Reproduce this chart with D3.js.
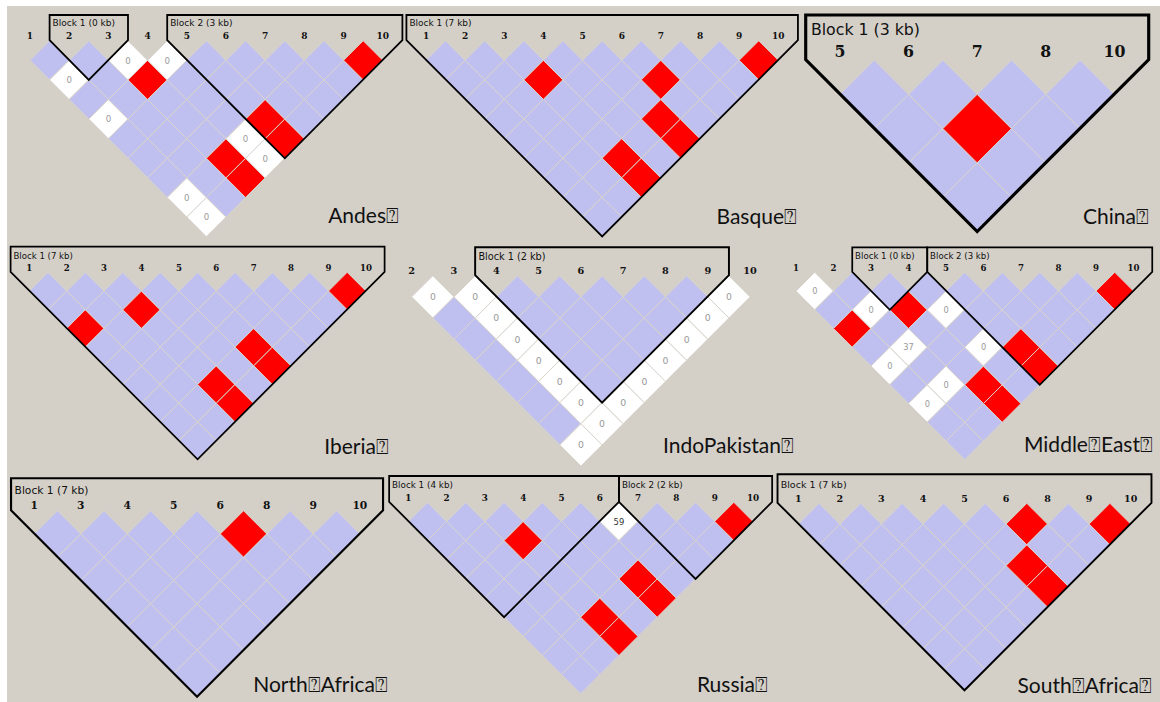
<!DOCTYPE html>
<html>
<head>
<meta charset="utf-8">
<script src="https://cdn.jsdelivr.net/npm/d3@7"></script>
<style>
  html, body { margin: 0; padding: 0; background: #fff; }
  svg { display: block; }
</style>
</head>
<body>
<svg id="chart" width="1160" height="702"></svg>
<script>
// marker labels, red (D'=1, LOD>=2) pairs, white pairs [m1, m2, D'], haplotype blocks
const andesMarkers = ['1', '2', '3', '4', '5', '6', '7', '8', '9', '10'];
const andesRed = [[3, 5], [9, 10], [5, 9], [5, 10], [3, 9], [3, 10]];
const andesWhite = [[3, 4, 0], [4, 5, 0], [1, 3, 0], [1, 5, 0], [4, 9, 0], [4, 10, 0], [1, 9, 0], [1, 10, 0]];
const andesBlocks = [['Block 1 (0 kb)', 2, 3], ['Block 2 (3 kb)', 5, 10]];

const basqueMarkers = ['1', '2', '3', '4', '5', '6', '7', '8', '9', '10'];
const basqueRed = [[3, 5], [6, 8], [9, 10], [5, 9], [5, 10], [3, 9], [3, 10]];
const basqueWhite = [];
const basqueBlocks = [['Block 1 (7 kb)', 1, 10]];

const chinaMarkers = ['5', '6', '7', '8', '10'];
const chinaRed = [[6, 8]];
const chinaWhite = [];
const chinaBlocks = [['Block 1 (3 kb)', 5, 10]];

const iberiaMarkers = ['1', '2', '3', '4', '5', '6', '7', '8', '9', '10'];
const iberiaRed = [[9, 10], [3, 5], [1, 4], [5, 9], [5, 10], [3, 9], [3, 10]];
const iberiaWhite = [];
const iberiaBlocks = [['Block 1 (7 kb)', 1, 10]];

const indoMarkers = ['2', '3', '4', '5', '6', '7', '8', '9', '10'];
const indoRed = [];
const indoWhite = [[2, 3, 0], [3, 4, 0], [3, 5, 0], [3, 6, 0], [3, 7, 0], [3, 8, 0], [3, 9, 0], [3, 10, 0],
    [9, 10, 0], [8, 10, 0], [7, 10, 0], [6, 10, 0], [5, 10, 0], [4, 10, 0], [2, 10, 0]];
const indoBlocks = [['Block 1 (2 kb)', 4, 9]];

const meMarkers = ['1', '2', '3', '4', '5', '6', '7', '8', '9', '10'];
const meRed = [[9, 10], [3, 5], [1, 4], [5, 9], [5, 10], [3, 9], [3, 10]];
const meWhite = [[1, 2, 0], [2, 4, 0], [4, 6, 0], [2, 6, 37], [4, 8, 0], [1, 6, 0], [2, 8, 0], [1, 8, 0]];
const meBlocks = [['Block 1 (0 kb)', 3, 4], ['Block 2 (3 kb)', 5, 10]];

const nafMarkers = ['1', '3', '4', '5', '6', '8', '9', '10'];
const nafRed = [[6, 8]];
const nafWhite = [];
const nafBlocks = [['Block 1 (7 kb)', 1, 10]];

const russiaMarkers = ['1', '2', '3', '4', '5', '6', '7', '8', '9', '10'];
const russiaRed = [[3, 5], [9, 10], [5, 9], [5, 10], [3, 9], [3, 10]];
const russiaWhite = [[6, 7, 59]];
const russiaBlocks = [['Block 1 (4 kb)', 1, 6], ['Block 2 (2 kb)', 7, 10]];

const safMarkers = ['1', '2', '3', '4', '5', '6', '8', '9', '10'];
const safRed = [[6, 8], [9, 10], [5, 9], [5, 10]];
const safWhite = [];
const safBlocks = [['Block 1 (7 kb)', 1, 10]];

const populations = ['Andes\u2370', 'Basque\u2370', 'China\u2370', 'Iberia\u2370', 'IndoPakistan\u2370',
    'Middle\u2370East\u2370', 'North\u2370Africa\u2370', 'Russia\u2370', 'South\u2370Africa\u2370'];

// where each panel sits: first marker x, marker spacing, top of diamonds, block top, name anchor
const layout = [
    { x0: 30, s: 39.2, topV: 40.7, top: 15, lx: 399, ly: 223 },
    { x0: 426, s: 39.15, topV: 40.7, top: 15, lx: 797, ly: 224 },
    { x0: 840, s: 68.6, topV: 60, top: 15, lx: 1149, ly: 224 },
    { x0: 29.3, s: 37.4, topV: 272.3, top: 246.7, lx: 389, ly: 454 },
    { x0: 411.7, s: 42.3, topV: 275.7, top: 247.3, lx: 794, ly: 453 },
    { x0: 796, s: 37.5, topV: 272.3, top: 247.3, lx: 1153, ly: 452 },
    { x0: 34.3, s: 46.5, topV: 510.7, top: 478.3, lx: 388, ly: 692 },
    { x0: 408.3, s: 38.3, topV: 502.3, top: 476, lx: 768, ly: 692 },
    { x0: 798.3, s: 41.55, topV: 503.3, top: 474.3, lx: 1152, ly: 693 },
];

const panels = [
    [andesMarkers, andesRed, andesWhite, andesBlocks],
    [basqueMarkers, basqueRed, basqueWhite, basqueBlocks],
    [chinaMarkers, chinaRed, chinaWhite, chinaBlocks],
    [iberiaMarkers, iberiaRed, iberiaWhite, iberiaBlocks],
    [indoMarkers, indoRed, indoWhite, indoBlocks],
    [meMarkers, meRed, meWhite, meBlocks],
    [nafMarkers, nafRed, nafWhite, nafBlocks],
    [russiaMarkers, russiaRed, russiaWhite, russiaBlocks],
    [safMarkers, safRed, safWhite, safBlocks],
];

const BG = '#d4d0c8';
const BLUE = '#c0c0f0';
const RED = '#ff0000';

const svg = d3.select('#chart');

svg.append('rect')
    .attr('x', 7)
    .attr('y', 6)
    .attr('width', 1153)
    .attr('height', 696)
    .attr('fill', BG);

panels.forEach((p, pi) => {
    const [markers, reds, whites, blocks] = p;
    const L = layout[pi];
    const k = L.s / 39.2;
    const n = markers.length;

    const x = d3.scalePoint()
        .domain(markers)
        .range([L.x0, L.x0 + (n - 1) * L.s]);
    // row (distance between markers) -> diamond centre y
    const y = d3.scaleLinear()
        .domain([0, 1])
        .range([L.topV, L.topV + L.s / 2]);

    const key = (a, b) => a + '-' + b;
    const redSet = new Set(reds.map((d) => key(d[0], d[1])));
    const whiteMap = new Map(whites.map((d) => [key(d[0], d[1]), d[2]]));

    const cells = [];
    for (let i = 0; i < n; i ++) {
        for (let j = i + 1; j < n; j ++) {
            const id = key(markers[i], markers[j]);
            let type = 'blue';
            if (redSet.has(id)) type = 'red';
            if (whiteMap.has(id)) type = 'white';
            cells.push({
                cx: (x(markers[i]) + x(markers[j])) / 2,
                cy: y(j - i),
                type: type,
                value: whiteMap.get(id),
            });
        }
    }

    const g = svg.append('g').attr('class', 'panel');
    const h = L.s / 2;

    g.selectAll('.cell')
        .data(cells)
        .enter()
        .append('path')
        .attr('class', 'cell')
        .attr('d', (d) => 'M' + d.cx + ',' + (d.cy - h) + 'L' + (d.cx + h) + ',' + d.cy +
            'L' + d.cx + ',' + (d.cy + h) + 'L' + (d.cx - h) + ',' + d.cy + 'Z')
        .style('fill', (d) => d.type === 'red' ? RED : d.type === 'white' ? '#ffffff' : BLUE)
        .style('stroke', '#d8d4cc')
        .style('stroke-width', 1);

    g.selectAll('.val')
        .data(cells.filter((d) => d.type === 'white'))
        .enter()
        .append('text')
        .attr('x', (d) => d.cx)
        .attr('y', (d) => d.cy + 3.2 * k)
        .attr('text-anchor', 'middle')
        .style('font-family', 'DejaVu Sans')
        .style('font-size', (8.6 * k) + 'px')
        .style('fill', (d) => d.value >= 50 ? '#333' : '#999')
        .text((d) => d.value);

    // block outlines
    blocks.forEach((b) => {
        const first = String(b[1]);
        const last = String(b[2]);
        const xa = x(first);
        const xb = x(last);
        const span = markers.indexOf(last) - markers.indexOf(first);
        const pts = [
            [xa - h, L.top],
            [xb + h, L.top],
            [xb + h, L.topV - 0.5],
            [(xa + xb) / 2, y(span + 1)],
            [xa - h, L.topV - 0.5],
        ];
        g.append('path')
            .attr('d', d3.line()(pts) + 'Z')
            .style('fill', 'none')
            .style('stroke', '#000')
            .style('stroke-width', 1.8 * k)
            .style('stroke-linejoin', 'miter');

        g.append('text')
            .attr('x', xa - h + 3 * k)
            .attr('y', L.topV - 14.3 * k)
            .style('font-family', 'DejaVu Sans')
            .style('font-size', (9 * k) + 'px')
            .style('fill', '#111')
            .text(b[0]);
    });

    g.selectAll('.marker')
        .data(markers)
        .enter()
        .append('text')
        .attr('x', (d) => x(d))
        .attr('y', L.topV - 1.6 * k)
        .attr('text-anchor', 'middle')
        .style('font-family', 'DejaVu Serif')
        .style('font-weight', 'bold')
        .style('font-size', (9 * k) + 'px')
        .style('fill', '#111')
        .text((d) => d);

    g.append('text')
        .attr('x', L.lx)
        .attr('y', L.ly)
        .attr('text-anchor', 'end')
        .style('font-family', 'Lato')
        .style('font-size', '21px')
        .style('fill', '#111')
        .text(populations[pi]);
});
</script>
</body>
</html>
